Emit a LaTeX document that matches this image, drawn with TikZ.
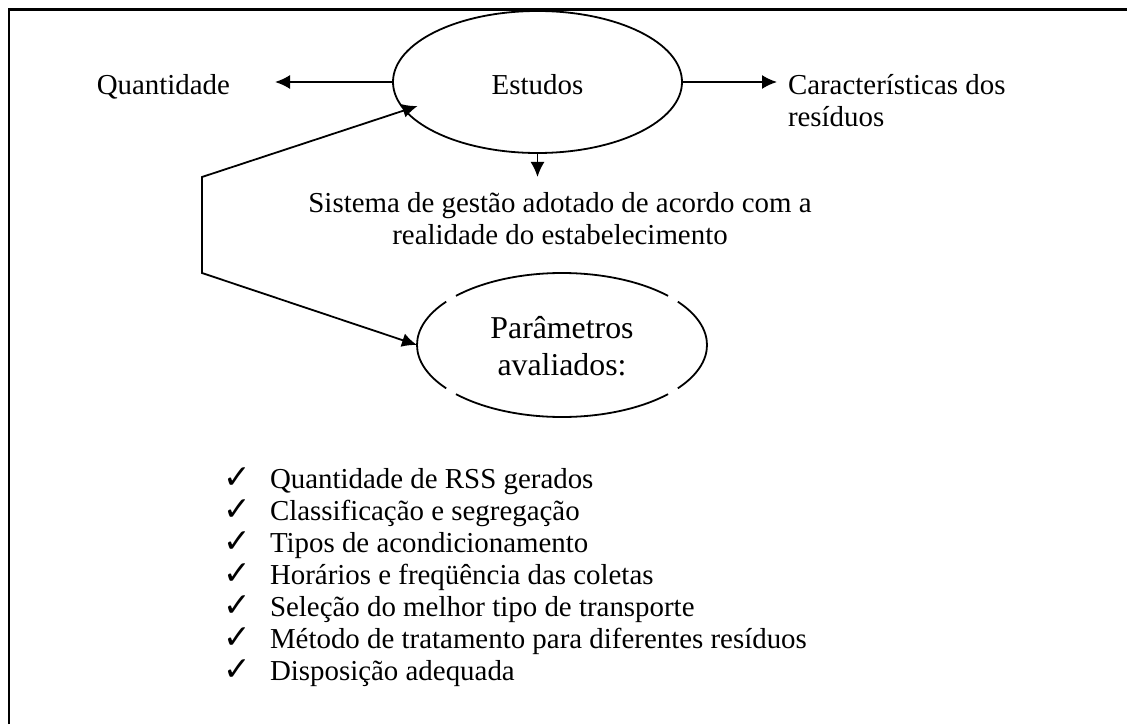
\documentclass[tikz,border=0pt]{standalone}
\usepackage{fontspec}
\setmainfont{Liberation Serif}
\newfontfamily\dejavu{DejaVu Sans}
\usetikzlibrary{shapes.geometric,arrows.meta}
\newcommand{\ckmark}{{\dejavu\fontsize{16.5}{16}\selectfont ✓}}
\begin{document}
\begin{tikzpicture}[x=0.5pt,y=0.5pt,
  txt/.style={inner sep=0pt, outer sep=0pt, font=\fontsize{14.45}{16}\selectfont},
  shp/.style={draw, line width=0.9pt, ellipse, inner sep=0pt, outer sep=0pt},
  arr/.style={line width=0.9pt, -{Latex[length=7.5pt,width=7pt]}},
  biarr/.style={line width=0.9pt, {Latex[length=7.5pt,width=7pt]}-{Latex[length=7.5pt,width=7pt]}},
  dashedge/.style={line width=0.9pt},
  frameline/.style={line width=1.25pt}
]
\useasboundingbox (0,0) rectangle (1127,724);
\draw[frameline] (9,0) -- (9,714.5) -- (1127,714.5);

\node[shp, txt, minimum width=144.5pt, minimum height=71pt, text height=13pt, text depth=0pt] (estudos) at (537.5,642) {Estudos};
\node[txt, anchor=base east, outer xsep=22.5pt] (quant) at (275,629) {Quantidade};
\node[txt, anchor=base west, outer xsep=5.5pt] (carac) at (777,629) {\begin{tabular}[t]{@{}l@{}}Características dos\\resíduos\end{tabular}};
\node[txt, anchor=base, outer ysep=6.8pt] (sist) at (560,511) {\begin{tabular}[t]{@{}c@{}}Sistema de gestão adotado de acordo com a\\realidade do estabelecimento\end{tabular}};
\node[ellipse, inner sep=0pt, outer sep=0pt, minimum width=145pt, minimum height=72pt, font=\fontsize{15.9}{18.5}\selectfont, text height=13pt, text depth=20pt] (param) at (562,379) {\begin{tabular}[t]{@{}c@{}}Parâmetros\\avaliados:\end{tabular}};
\foreach \s/\e in {43/137, 143/217, 223/317, 323/397}
  \draw[dashedge] (param.center) ++(\s:72.5pt and 36pt) arc[start angle=\s, end angle=\e, x radius=72.5pt, y radius=36pt];

\draw[arr] (estudos.west) -- (estudos.west -| quant.east);
\draw[arr] (estudos.east) -- (estudos.east -| carac.west);
\draw[arr] (estudos.south) -- (estudos.south |- sist.north);
\coordinate (fb1) at (202,547);
\coordinate (fb2) at (202,451);
\draw[biarr, shorten <=-6.7pt] (estudos.192) -- (fb1) -- (fb2) -- (param.west);

\foreach \i/\t in {1/Quantidade de RSS gerados, 2/Classificação e segregação, 3/Tipos de acondicionamento, 4/Horários e freqüência das coletas, 5/Seleção do melhor tipo de transporte, 6/Método de tratamento para diferentes resíduos, 7/Disposição adequada}
  \node[txt, anchor=base west] (item\i) at (223,{236-32*(\i-1)}) {\makebox[23.5pt][l]{\ckmark}\t};
\end{tikzpicture}
\end{document}
